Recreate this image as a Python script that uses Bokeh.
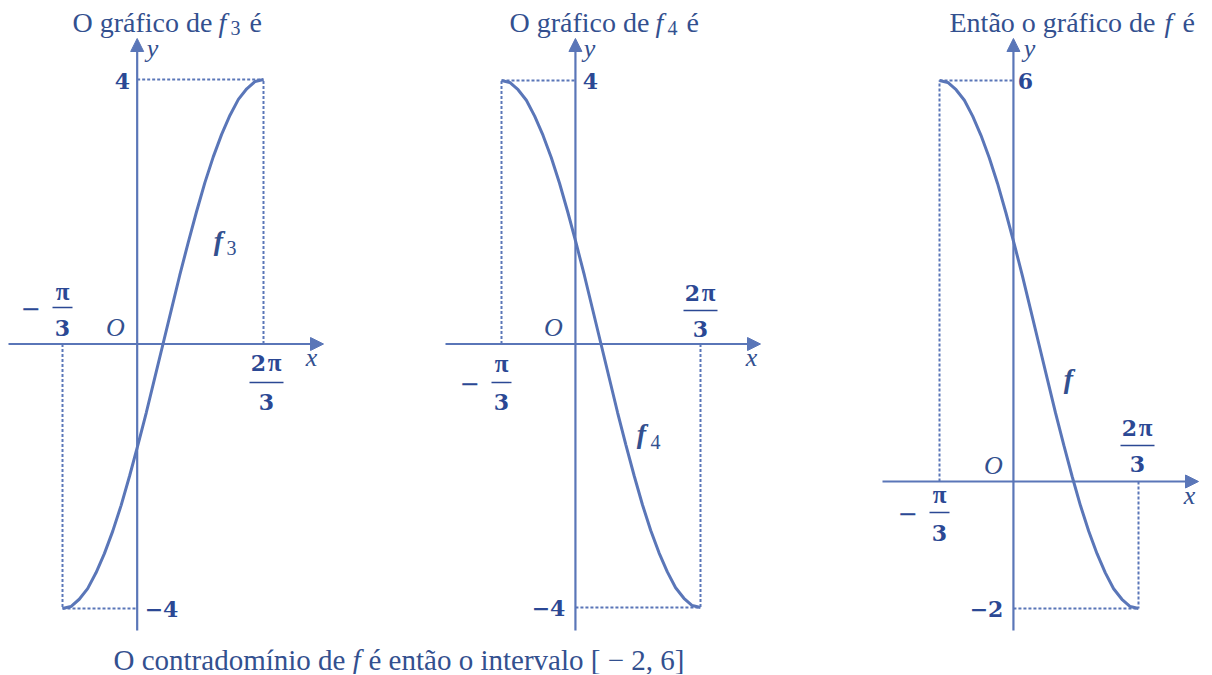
import math
from bokeh.plotting import figure
from bokeh.layouts import row, column
from bokeh.models import Label, Arrow, NormalHead, Range1d
from bokeh.embed import file_html
from bokeh.resources import INLINE

# ---------------- data ----------------
# x positions in steps of pi/24, from -pi/3 to 2pi/3
x_steps = list(range(-8, 17))
f3_values = [-4.00, -3.97, -3.86, -3.70, -3.46, -3.17, -2.83, -2.44, -2.00, -1.53, -1.04, -0.52, 0.00,
             0.52, 1.04, 1.53, 2.00, 2.44, 2.83, 3.17, 3.46, 3.70, 3.86, 3.97, 4.00]
f4_values = [4.00, 3.97, 3.86, 3.70, 3.46, 3.17, 2.83, 2.44, 2.00, 1.53, 1.04, 0.52, 0.00,
             -0.52, -1.04, -1.53, -2.00, -2.44, -2.83, -3.17, -3.46, -3.70, -3.86, -3.97, -4.00]
f_values = [6.00, 5.97, 5.86, 5.70, 5.46, 5.17, 4.83, 4.44, 4.00, 3.53, 3.04, 2.52, 2.00,
            1.48, 0.96, 0.47, 0.00, -0.44, -0.83, -1.17, -1.46, -1.70, -1.86, -1.97, -2.00]
domain_ends = [-1/3, 2/3]          # in units of pi
f3_end_values = [-4, 4]
f4_end_values = [4, -4]
f_end_values = [6, -2]
x_tick_parts = ["\u2212", "\u03c0", "3", "2", "\u03c0", "3"]
titles = ["O gr\u00e1fico de", "O gr\u00e1fico de", "Ent\u00e3o o gr\u00e1fico de"]
footer = ["O contradom\u00ednio de", "f", "\u00e9 ent\u00e3o o intervalo [ \u2212 2, 6]"]

# ---------------- style ----------------
LINE = "#5a76b8"
TEXT = "#33508f"
NUM = "#2b4894"
SERIF = "Liberation Serif"
BOLD = "DejaVu Serif"
PANEL_H = 640
FOOT_H = 34
AXIS_X = 0.12     # where the y axis is drawn in the picture (rad)

xs = [k * math.pi / 24 for k in x_steps]
xa, xb = domain_ends[0] * math.pi, domain_ends[1] * math.pi


def make_panel(FL, FR, P0, P1, Qa, Qb, ya, yb):
    sx = (P1 - P0) / (xb - xa)
    sy = (Qb - Qa) / (ya - yb)
    X = lambda px: xa + (px - P0) / sx
    Y = lambda py: ya - (py - Qa) / sy
    p = figure(width=FR - FL, height=PANEL_H,
               x_range=Range1d(X(FL), X(FR)), y_range=Range1d(Y(PANEL_H), Y(0)),
               output_backend="svg", toolbar_location=None, min_border=0)
    p.axis.visible = False
    p.grid.visible = False
    p.outline_line_color = None
    p.background_fill_color = "white"
    p.border_fill_color = "white"
    return p, X, Y


def lab(p, x, y, text, size, font=SERIF, style="normal", color=TEXT, align="center", baseline="middle"):
    p.add_layout(Label(x=x, y=y, text=text, text_font=font, text_font_size=f"{size}px",
                       text_font_style=style, text_color=color, text_align=align,
                       text_baseline=baseline))


def axes(p, X, Y, ax_y, x_from, x_to, y_from, y_to):
    head = dict(size=13, fill_color=LINE, line_color=LINE, line_width=1)
    p.add_layout(Arrow(end=NormalHead(**head), x_start=X(x_from), y_start=ax_y,
                       x_end=X(x_to), y_end=ax_y, line_color=LINE, line_width=2.2))
    p.add_layout(Arrow(end=NormalHead(**head), x_start=AXIS_X, y_start=Y(y_from),
                       x_end=AXIS_X, y_end=Y(y_to), line_color=LINE, line_width=2.2))


def dotted(p, x0, y0, x1, y1):
    p.segment(x0=x0, y0=y0, x1=x1, y1=y1, line_color=LINE, line_width=2, line_dash="3 2")


def num(p, x, y, text, size=22):
    lab(p, x, y, text, size, font=BOLD, style="bold", color=NUM)


def pi_sym(p, x, y):
    lab(p, x, y, x_tick_parts[1], 25, font=SERIF, style="bold", color=NUM)


def frac_pi3(p, X, Y, cx, y_num, y_bar, y_den):
    pi_sym(p, X(cx), Y(y_num))
    p.segment(x0=[X(cx - 10)], y0=[Y(y_bar)], x1=[X(cx + 10)], y1=[Y(y_bar)],
              line_color=NUM, line_width=1.4)
    num(p, X(cx), Y(y_den), x_tick_parts[2])


def frac_2pi3(p, X, Y, cx, y_num, y_bar, y_den):
    num(p, X(cx - 8), Y(y_num), x_tick_parts[3])
    pi_sym(p, X(cx + 8), Y(y_num))
    p.segment(x0=[X(cx - 17)], y0=[Y(y_bar)], x1=[X(cx + 17)], y1=[Y(y_bar)],
              line_color=NUM, line_width=1.4)
    num(p, X(cx), Y(y_den), x_tick_parts[5])


def title(p, X, Y, pieces):
    for px, text, size, style, dy in pieces:
        lab(p, X(px), Y(22 + dy), text, size, style=style, align="left", baseline="middle")


# ---------------- panel 1 : f3 ----------------
p1, X1, Y1 = make_panel(0, 440, 62, 263, 79, 608, 4, -4)
lo, hi = f3_end_values
dotted(p1, [AXIS_X, xb, xa, xa], [hi, 0, lo, 0], [xb, xb, AXIS_X, xa], [hi, hi, lo, lo])
axes(p1, X1, Y1, 0, 8, 323, 630, 38)
p1.line(xs, f3_values, line_color=LINE, line_width=3)
title(p1, X1, Y1, [(72, titles[0], 28, "normal", 0), (218, "f", 28, "italic", 0),
                   (230, "3", 20, "normal", 5), (249, "\u00e9", 28, "normal", 0)])
lab(p1, X1(152), Y1(48), "y", 26, style="italic")
num(p1, X1(122), Y1(80), "4")
lab(p1, X1(115), Y1(327), "O", 26, style="italic")
lab(p1, X1(311), Y1(357), "x", 26, style="italic")
lab(p1, X1(30), Y1(307), x_tick_parts[0], 24, font=BOLD, color=NUM)
frac_pi3(p1, X1, Y1, 62, 291, 307, 327)
frac_2pi3(p1, X1, Y1, 266, 362, 382, 401)
num(p1, X1(161), Y1(608), "\u22124")
lab(p1, X1(218), Y1(240), "f", 28, style="bold italic")
lab(p1, X1(231), Y1(247), "3", 20, font=SERIF, color=TEXT)

# ---------------- panel 2 : f4 ----------------
p2, X2, Y2 = make_panel(440, 870, 501, 700, 80, 607, 4, -4)
hi, lo = f4_end_values
dotted(p2, [xa, xa, AXIS_X, xb], [hi, 0, lo, 0], [AXIS_X, xa, xb, xb], [hi, hi, lo, lo])
axes(p2, X2, Y2, 0, 445, 760, 630, 38)
p2.line(xs, f4_values, line_color=LINE, line_width=3)
title(p2, X2, Y2, [(509, titles[1], 28, "normal", 0), (655, "f", 28, "italic", 0),
                   (667, "4", 20, "normal", 5), (686, "\u00e9", 28, "normal", 0)])
lab(p2, X2(589), Y2(48), "y", 26, style="italic")
num(p2, X2(590), Y2(80), "4")
lab(p2, X2(553), Y2(327), "O", 26, style="italic")
lab(p2, X2(751), Y2(357), "x", 26, style="italic")
frac_2pi3(p2, X2, Y2, 700, 292, 310, 328)
lab(p2, X2(469), Y2(382), x_tick_parts[0], 24, font=BOLD, color=NUM)
frac_pi3(p2, X2, Y2, 501, 363, 382, 401)
num(p2, X2(548), Y2(607), "\u22124")
lab(p2, X2(641), Y2(433), "f", 28, style="bold italic")
lab(p2, X2(655), Y2(441), "4", 20, font=SERIF, color=TEXT)

# ---------------- panel 3 : f ----------------
p3, X3, Y3 = make_panel(870, 1210, 939, 1138, 80, 608, 6, -2)
hi, lo = f_end_values
AXIS_Y3 = Y3(481)
dotted(p3, [xa, xa, AXIS_X, xb], [hi, AXIS_Y3, lo, AXIS_Y3], [AXIS_X, xa, xb, xb], [hi, hi, lo, lo])
axes(p3, X3, Y3, AXIS_Y3, 882, 1198, 630, 38)
p3.line(xs, f_values, line_color=LINE, line_width=3)
title(p3, X3, Y3, [(949, titles[2], 28, "normal", 0), (1164, "f", 28, "italic", 0),
                   (1182, "\u00e9", 28, "normal", 0)])
lab(p3, X3(1029), Y3(48), "y", 26, style="italic")
num(p3, X3(1025), Y3(80), "6")
lab(p3, X3(993), Y3(465), "O", 26, style="italic")
lab(p3, X3(1189), Y3(495), "x", 26, style="italic")
frac_2pi3(p3, X3, Y3, 1137, 427, 445, 463)
lab(p3, X3(907), Y3(512), x_tick_parts[0], 24, font=BOLD, color=NUM)
frac_pi3(p3, X3, Y3, 939, 494, 512, 532)
num(p3, X3(986), Y3(608), "\u22122")
lab(p3, X3(1068), Y3(378), "f", 28, style="bold italic")

# ---------------- footer ----------------
pf = figure(width=1210, height=FOOT_H, x_range=Range1d(0, 1210),
            y_range=Range1d(PANEL_H + FOOT_H, PANEL_H),
            output_backend="svg", toolbar_location=None, min_border=0)
pf.axis.visible = False
pf.grid.visible = False
pf.outline_line_color = None
for px, text, style in [(113, footer[0], "normal"), (352, footer[1], "italic"), (368, footer[2], "normal")]:
    lab(pf, px, 659, text, 29, style=style, align="left", baseline="middle")

layout = column(row(p1, p2, p3, spacing=0), pf, spacing=0)
open("out.html", "w").write(file_html(layout, INLINE))
